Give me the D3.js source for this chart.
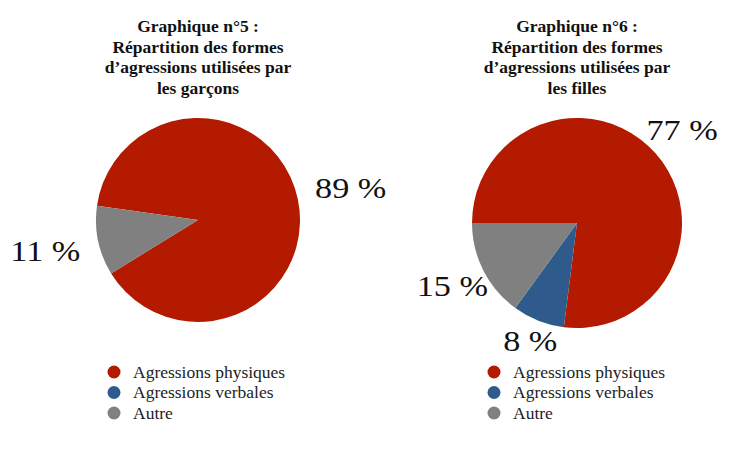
<!DOCTYPE html>
<html>
<head>
<meta charset="utf-8">
<script src="https://cdn.jsdelivr.net/npm/d3@7"></script>
<style>
  html, body { margin: 0; padding: 0; background: #fff; }
  svg { display: block; font-family: "Liberation Serif", "Times New Roman", serif; }
</style>
</head>
<body>
<svg id="chart" width="731" height="455"></svg>
<script>
const categories = ['Agressions physiques', 'Agressions verbales', 'Autre'];
const colors = ['#b31a00', '#2e5a8c', '#808080'];

const garconsValues = [89, 0, 11];
const fillesValues = [77, 8, 15];

const garconsTitle = ['Graphique n°5 :', 'Répartition des formes', 'd’agressions utilisées par', 'les garçons'];
const fillesTitle = ['Graphique n°6 :', 'Répartition des formes', 'd’agressions utilisées par', 'les filles'];

const svg = d3.select('#chart');
const color = d3.scaleOrdinal().domain(categories).range(colors);

function drawPie(opts) {
  const g = svg.append('g');

  // title
  const title = g.append('text')
    .attr('text-anchor', 'middle')
    .attr('font-weight', 'bold')
    .attr('font-size', 17.5)
    .attr('fill', '#111');
  opts.title.forEach((line, i) => {
    title.append('tspan')
      .attr('x', opts.cx)
      .attr('y', 32 + i * 20.5)
      .text(line);
  });

  const data = categories.map((c, i) => ({ cat: c, value: opts.values[i], i }));
  const pie = d3.pie()
    .sort(null)
    .value(d => d.value)
    .startAngle(opts.start)
    .endAngle(opts.start + 2 * Math.PI);
  const arcs = pie(data).filter(d => d.data.value > 0);

  const arc = d3.arc().innerRadius(0).outerRadius(opts.r);

  const pieG = g.append('g').attr('transform', `translate(${opts.cx},${opts.cy})`);
  pieG.selectAll('path')
    .data(arcs)
    .join('path')
    .attr('d', arc)
    .attr('fill', d => color(d.data.cat));

  // percentage labels, outside the pie along each slice's mid angle
  pieG.selectAll('text')
    .data(arcs)
    .join('text')
    .attr('transform', d => {
      const lr = opts.labelR[d.data.i];
      const [x, y] = d3.arc().innerRadius(lr).outerRadius(lr).centroid(d);
      return `translate(${x},${y}) scale(1.18,1)`;
    })
    .attr('text-anchor', 'middle')
    .attr('dy', '0.33em')
    .attr('font-size', 29)
    .attr('fill', '#111')
    .text(d => `${d.data.value} %`);

  // legend
  const leg = g.append('g').attr('transform', `translate(${opts.legX},372)`);
  const rows = leg.selectAll('g')
    .data(categories)
    .join('g')
    .attr('transform', (d, i) => `translate(0,${i * 20.5})`);
  rows.append('circle')
    .attr('r', 6.5)
    .attr('fill', d => color(d));
  rows.append('text')
    .attr('x', 19)
    .attr('dy', '0.33em')
    .attr('font-size', 17.5)
    .attr('fill', '#222')
    .text(d => d);
}

drawPie({ title: garconsTitle, values: garconsValues, cx: 198, cy: 220, r: 102,
  start: -82 * Math.PI / 180, labelR: [156, 156, 156], legX: 114 });
drawPie({ title: fillesTitle, values: fillesValues, cx: 577, cy: 223, r: 105,
  start: -Math.PI / 2, labelR: [140, 127, 140], legX: 494 });
</script>
</body>
</html>
